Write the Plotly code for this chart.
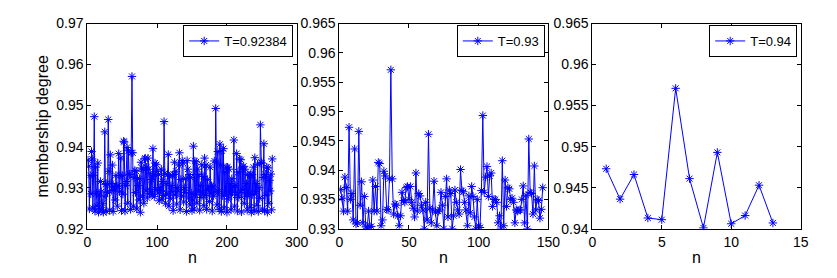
import plotly.graph_objects as go

# ---------------- data ----------------
# membership degrees of all samples (panel 1, T = 0.92384)
membership = [
    0.9367, 0.9352, 0.9248, 0.9330, 0.9285, 0.9388, 0.9370, 0.9250, 0.9330, 0.9473,
    0.9243, 0.9350, 0.9287, 0.9255, 0.9360, 0.9240, 0.9282, 0.9248, 0.9315, 0.9290,
    0.9245, 0.9262, 0.9240, 0.9278, 0.9436,
    0.9308, 0.9242, 0.9310, 0.9288, 0.9466,
    0.9340, 0.9245, 0.9380, 0.9310, 0.9293, 0.9355, 0.9242, 0.9303, 0.9300, 0.9270,
    0.9330, 0.9303, 0.9255, 0.9304, 0.9383, 0.9290, 0.9330, 0.9372, 0.9244, 0.9330,
    0.9284, 0.9413,
    0.9411, 0.9243, 0.9305, 0.9315, 0.9398, 0.9262, 0.9390, 0.9333, 0.9332, 0.9247,
    0.9385, 0.9571,
    0.9385, 0.9255, 0.9325, 0.9342, 0.9288, 0.9340, 0.9248, 0.9322, 0.9305, 0.9270,
    0.9322, 0.9240, 0.9362, 0.9348, 0.9280, 0.9345, 0.9262, 0.9370, 0.9372, 0.9292,
    0.9350, 0.9275, 0.9372, 0.9345, 0.9285, 0.9335, 0.9290, 0.9320, 0.9283, 0.9395,
    0.9330, 0.9278, 0.9360, 0.9295, 0.9356, 0.9340, 0.9287, 0.9332, 0.9268, 0.9300,
    0.9293, 0.9345, 0.9272, 0.9315, 0.9281, 0.9461,
    0.9335, 0.9262, 0.9310, 0.9285, 0.9332, 0.9381, 0.9255, 0.9328, 0.9274, 0.9305,
    0.9290, 0.9330, 0.9244, 0.9332, 0.9362, 0.9282, 0.9340, 0.9260, 0.9300, 0.9291,
    0.9355, 0.9385, 0.9246, 0.9320, 0.9279, 0.9366, 0.9360, 0.9265, 0.9300, 0.9288,
    0.9322, 0.9242, 0.9366, 0.9345, 0.9275, 0.9332, 0.9258, 0.9325, 0.9286, 0.9244,
    0.9270, 0.9401,
    0.9248, 0.9365, 0.9283, 0.9363, 0.9262, 0.9345, 0.9292, 0.9332, 0.9245, 0.9305,
    0.9276, 0.9356, 0.9289, 0.9327, 0.9256, 0.9372, 0.9281, 0.9355, 0.9247, 0.9320,
    0.9294, 0.9300, 0.9266, 0.9350, 0.9285, 0.9305, 0.9243, 0.9302, 0.9279, 0.9365,
    0.9289, 0.9493,
    0.9362, 0.9258, 0.9388, 0.9291, 0.9247, 0.9406,
    0.9355, 0.9242, 0.9390, 0.9280, 0.9395, 0.9251, 0.9338, 0.9289, 0.9350, 0.9240,
    0.9350, 0.9272, 0.9345, 0.9284, 0.9310, 0.9246, 0.9322, 0.9290, 0.9301, 0.9416,
    0.9255, 0.9305, 0.9282, 0.9383, 0.9243, 0.9338, 0.9276, 0.9370, 0.9288, 0.9368,
    0.9241, 0.9350, 0.9294, 0.9352, 0.9262, 0.9345, 0.9279, 0.9310, 0.9245, 0.9332,
    0.9286, 0.9330, 0.9252, 0.9332, 0.9240, 0.9332, 0.9283, 0.9350, 0.9244, 0.9373,
    0.9291, 0.9310, 0.9257, 0.9357, 0.9242, 0.9300, 0.9274, 0.9453,
    0.9362, 0.9360, 0.9248, 0.9325, 0.9407,
    0.9244, 0.9332, 0.9281, 0.9350, 0.9240, 0.9348, 0.9262, 0.9318, 0.9292, 0.9333,
    0.9246, 0.9370,
]

thresholds = [0.92384, 0.93, 0.94]
legend_names = ["T=0.92384", "T=0.93", "T=0.94"]

x_ranges = [[0, 300], [0, 150], [0, 15]]
x_ticks = [[0, 100, 200, 300], [0, 50, 100, 150], [0, 5, 10, 15]]
x_ticktext = [["0", "100", "200", "300"], ["0", "50", "100", "150"], ["0", "5", "10", "15"]]

y_ranges = [[0.92, 0.97], [0.93, 0.965], [0.94, 0.965]]
y_ticks = [
    [0.92, 0.93, 0.94, 0.95, 0.96, 0.97],
    [0.93, 0.935, 0.94, 0.945, 0.95, 0.955, 0.96, 0.965],
    [0.94, 0.945, 0.95, 0.955, 0.96, 0.965],
]
y_ticktext = [
    ["0.92", "0.93", "0.94", "0.95", "0.96", "0.97"],
    ["0.93", "0.935", "0.94", "0.945", "0.95", "0.955", "0.96", "0.965"],
    ["0.94", "0.945", "0.95", "0.955", "0.96", "0.965"],
]

x_title = "n"
y_title = "membership degree"

# ---------------- layout geometry ----------------
W, H = 837, 278
x_domains = [[87.3 / W, 296.7 / W], [339.3 / W, 548.3 / W], [592.3 / W, 800.7 / W]]
y_domain = [(H - 228.7) / H, (H - 23.5) / H]

FONT = "Liberation Sans, Arial, sans-serif"
BLUE = "rgb(0,0,255)"

fig = go.Figure()
layout = dict(
    width=W, height=H,
    template="none",
    margin=dict(l=0, r=0, t=0, b=0, autoexpand=False),
    paper_bgcolor="white", plot_bgcolor="white",
    font=dict(family=FONT, size=14, color="black"),
    showlegend=True,
)
annotations = []

for i in range(3):
    vals = [v for v in membership if v >= thresholds[i]]
    xs = list(range(1, len(vals) + 1))
    sfx = "" if i == 0 else str(i + 1)
    lg = "legend" if i == 0 else f"legend{i + 1}"
    fig.add_trace(go.Scatter(
        x=xs, y=vals, mode="lines+markers", name=legend_names[i],
        xaxis="x" + sfx, yaxis="y" + sfx, legend=lg,
        line=dict(color=BLUE, width=1),
        marker=dict(symbol="asterisk-open", size=7, color=BLUE,
                    line=dict(color=BLUE, width=1)),
    ))
    axis_common = dict(
        showline=True, linecolor="black", linewidth=1, mirror="allticks",
        ticks="inside", ticklen=4, tickcolor="black", tickwidth=1,
        showgrid=False, zeroline=False, automargin=False,
        tickfont=dict(family=FONT, size=14, color="black"),
    )
    layout["xaxis" + sfx] = dict(
        axis_common, domain=x_domains[i], range=x_ranges[i],
        tickmode="array", tickvals=x_ticks[i], ticktext=x_ticktext[i],
        anchor="y" + sfx,
    )
    layout["yaxis" + sfx] = dict(
        axis_common, domain=y_domain, range=y_ranges[i],
        tickmode="array", tickvals=y_ticks[i], ticktext=y_ticktext[i],
        anchor="x" + sfx,
    )
    layout[lg] = dict(
        x=x_domains[i][1] - 3.5 / W, xanchor="right",
        y=y_domain[1] - 1.5 / H, yanchor="top",
        bgcolor="white", bordercolor="black", borderwidth=1,
        font=dict(family=FONT, size=13, color="black"),
        itemwidth=30,
    )
    annotations.append(dict(
        text=x_title, xref="paper", yref="paper",
        x=(x_domains[i][0] + x_domains[i][1]) / 2, y=(H - 257) / H,
        xanchor="center", yanchor="middle", showarrow=False,
        font=dict(family=FONT, size=16, color="black"),
    ))

annotations.append(dict(
    text=y_title, xref="paper", yref="paper",
    x=42 / W, y=(H - 126.5) / H, textangle=-90,
    xanchor="center", yanchor="middle", showarrow=False,
    font=dict(family=FONT, size=16, color="black"),
))
layout["annotations"] = annotations

fig.update_layout(**layout)
fig.write_html(
    "out.html",
    config={"displayModeBar": False},
    post_script="document.body.style.margin='0';document.body.style.overflow='hidden';",
)
